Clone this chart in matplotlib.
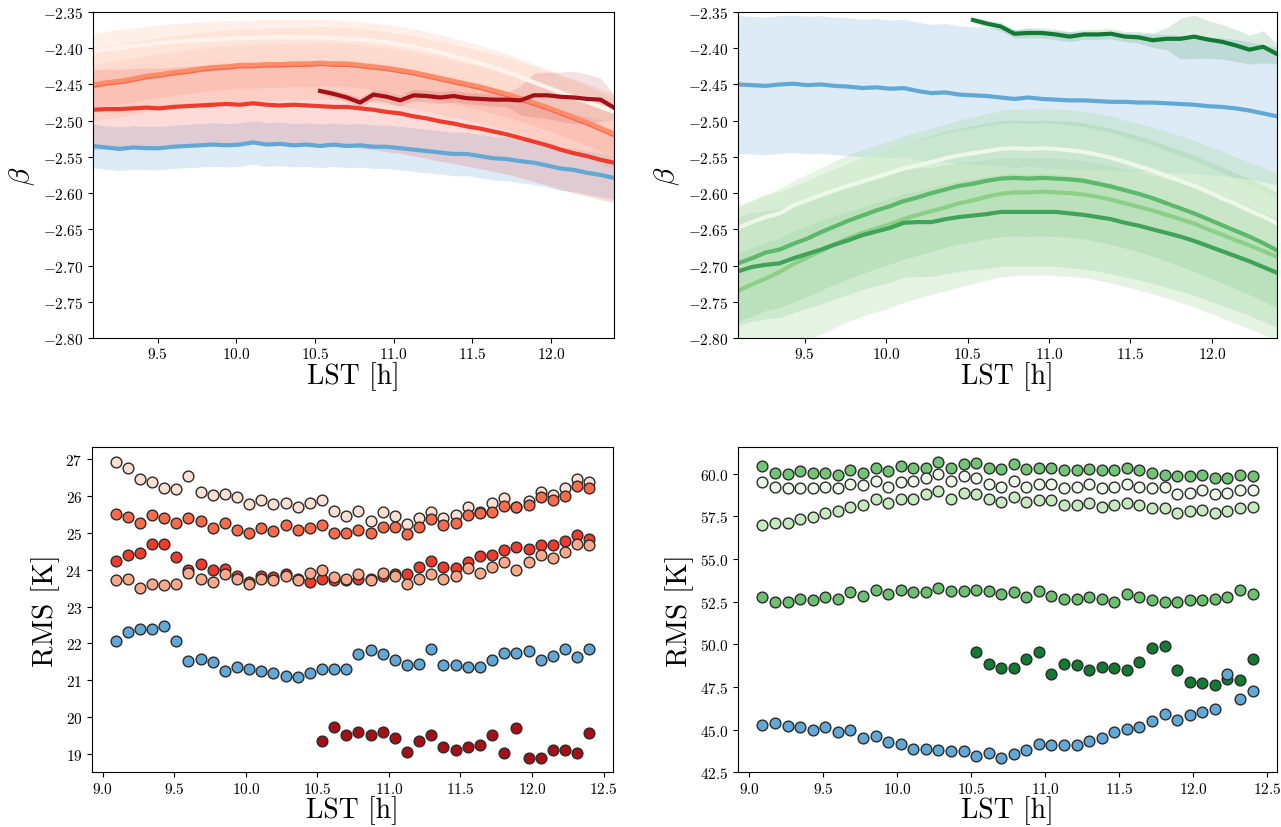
import numpy as np
import matplotlib
matplotlib.use("Agg")
import matplotlib.pyplot as plt

plt.rcParams['font.family'] = 'serif'
plt.rcParams['font.serif'] = ['cmr10']
plt.rcParams['mathtext.fontset'] = 'cm'
plt.rcParams['axes.formatter.use_mathtext'] = True
plt.rcParams['axes.unicode_minus'] = True

# LST grid [h]
lst = [9.090, 9.175, 9.260, 9.345, 9.430, 9.514, 9.599, 9.684, 9.769, 9.854,
       9.939, 10.024, 10.108, 10.193, 10.278, 10.363, 10.448, 10.533, 10.618, 10.703,
       10.787, 10.872, 10.957, 11.042, 11.127, 11.212, 11.297, 11.381, 11.466, 11.551,
       11.636, 11.721, 11.806, 11.891, 11.976, 12.060, 12.145, 12.230, 12.315, 12.400]
lst_late = lst[17:]

# ---- beta, left (reds) ----
beta_l_blue = [-2.535, -2.537, -2.539, -2.537, -2.538, -2.538, -2.536, -2.535, -2.534, -2.533,
               -2.534, -2.533, -2.530, -2.533, -2.532, -2.534, -2.533, -2.535, -2.533, -2.535,
               -2.534, -2.536, -2.536, -2.538, -2.540, -2.542, -2.544, -2.546, -2.546, -2.549,
               -2.552, -2.553, -2.556, -2.558, -2.562, -2.566, -2.568, -2.572, -2.575, -2.579]
beta_l_pale = [-2.405, -2.402, -2.399, -2.397, -2.395, -2.393, -2.391, -2.390, -2.389, -2.388,
               -2.387, -2.386, -2.386, -2.385, -2.385, -2.385, -2.385, -2.385, -2.386, -2.387,
               -2.388, -2.390, -2.392, -2.395, -2.398, -2.402, -2.406, -2.411, -2.416, -2.421,
               -2.427, -2.433, -2.440, -2.447, -2.454, -2.461, -2.468, -2.474, -2.481, -2.488]
beta_l_orange = [-2.452, -2.449, -2.447, -2.444, -2.440, -2.438, -2.435, -2.433, -2.430, -2.428,
                 -2.427, -2.425, -2.425, -2.424, -2.424, -2.423, -2.423, -2.422, -2.423, -2.423,
                 -2.425, -2.427, -2.429, -2.432, -2.435, -2.439, -2.443, -2.447, -2.451, -2.455,
                 -2.460, -2.465, -2.471, -2.477, -2.483, -2.490, -2.497, -2.504, -2.512, -2.520]
beta_l_salmon = [-2.450, -2.447, -2.445, -2.442, -2.438, -2.436, -2.433, -2.431, -2.428, -2.426,
                 -2.425, -2.423, -2.423, -2.422, -2.422, -2.421, -2.421, -2.420, -2.421, -2.421,
                 -2.423, -2.425, -2.427, -2.430, -2.433, -2.437, -2.441, -2.445, -2.449, -2.453,
                 -2.458, -2.463, -2.469, -2.475, -2.481, -2.488, -2.495, -2.502, -2.510, -2.518]
beta_l_red = [-2.485, -2.484, -2.484, -2.483, -2.482, -2.483, -2.481, -2.480, -2.479, -2.478,
              -2.477, -2.478, -2.476, -2.478, -2.479, -2.478, -2.479, -2.480, -2.481, -2.481,
              -2.483, -2.485, -2.488, -2.490, -2.494, -2.497, -2.501, -2.504, -2.508, -2.511,
              -2.515, -2.519, -2.524, -2.529, -2.534, -2.540, -2.545, -2.549, -2.554, -2.558]
beta_l_dark = [-2.459, -2.463, -2.468, -2.475, -2.464, -2.467, -2.472, -2.465, -2.466, -2.468,
               -2.466, -2.469, -2.470, -2.471, -2.471, -2.472, -2.465, -2.465, -2.467, -2.468,
               -2.470, -2.471, -2.482]
err_l_dark = [0.004, 0.005, 0.006, 0.007, 0.007, 0.008, 0.008, 0.008, 0.008, 0.008,
              0.008, 0.008, 0.008, 0.009, 0.010, 0.020, 0.030, 0.032, 0.034, 0.036,
              0.034, 0.030, 0.018]

# ---- beta, right (greens) ----
beta_r_blue = [-2.450, -2.451, -2.452, -2.450, -2.449, -2.451, -2.450, -2.452, -2.453, -2.455,
               -2.454, -2.456, -2.455, -2.459, -2.462, -2.461, -2.464, -2.465, -2.466, -2.468,
               -2.470, -2.468, -2.470, -2.471, -2.472, -2.472, -2.473, -2.474, -2.474, -2.475,
               -2.475, -2.476, -2.477, -2.478, -2.480, -2.481, -2.483, -2.486, -2.490, -2.494]
beta_r_pale = [-2.648, -2.640, -2.633, -2.628, -2.617, -2.610, -2.603, -2.596, -2.590, -2.584,
               -2.578, -2.572, -2.566, -2.562, -2.557, -2.552, -2.548, -2.545, -2.542, -2.539,
               -2.538, -2.539, -2.538, -2.539, -2.541, -2.543, -2.547, -2.551, -2.557, -2.563,
               -2.569, -2.576, -2.583, -2.590, -2.598, -2.607, -2.615, -2.624, -2.632, -2.642]
beta_r_light = [-2.735, -2.726, -2.718, -2.709, -2.698, -2.689, -2.680, -2.671, -2.662, -2.655,
                -2.649, -2.643, -2.636, -2.630, -2.625, -2.620, -2.614, -2.610, -2.605, -2.601,
                -2.599, -2.599, -2.598, -2.599, -2.600, -2.602, -2.605, -2.609, -2.614, -2.619,
                -2.624, -2.630, -2.636, -2.642, -2.650, -2.657, -2.665, -2.672, -2.680, -2.688]
beta_r_mid = [-2.697, -2.690, -2.682, -2.678, -2.670, -2.663, -2.654, -2.646, -2.638, -2.631,
              -2.624, -2.618, -2.611, -2.606, -2.600, -2.595, -2.590, -2.587, -2.583, -2.580,
              -2.579, -2.580, -2.579, -2.580, -2.581, -2.583, -2.587, -2.591, -2.596, -2.601,
              -2.607, -2.614, -2.621, -2.628, -2.636, -2.644, -2.652, -2.660, -2.669, -2.679]
beta_r_deep = [-2.708, -2.702, -2.699, -2.697, -2.690, -2.684, -2.678, -2.671, -2.665, -2.658,
               -2.653, -2.648, -2.641, -2.640, -2.640, -2.636, -2.633, -2.631, -2.629, -2.626,
               -2.626, -2.626, -2.626, -2.626, -2.628, -2.630, -2.633, -2.636, -2.641, -2.645,
               -2.650, -2.655, -2.660, -2.666, -2.673, -2.680, -2.687, -2.694, -2.702, -2.710]
beta_r_dark = [-2.361, -2.366, -2.370, -2.380, -2.379, -2.379, -2.381, -2.384, -2.381, -2.381,
               -2.380, -2.384, -2.385, -2.389, -2.387, -2.387, -2.384, -2.388, -2.391, -2.396,
               -2.402, -2.398, -2.408]
err_r_dark = [0.004, 0.005, 0.006, 0.006, 0.007, 0.007, 0.007, 0.007, 0.007, 0.007,
              0.007, 0.007, 0.008, 0.010, 0.015, 0.028, 0.030, 0.026, 0.024, 0.022,
              0.020, 0.022, 0.014]

# ---- RMS, left (reds) [K] ----
rms_l_pale = [26.93, 26.77, 26.47, 26.39, 26.22, 26.19, 26.55, 26.11, 26.02, 26.06,
              25.97, 25.77, 25.90, 25.77, 25.81, 25.70, 25.81, 25.90, 25.58, 25.45,
              25.58, 25.32, 25.57, 25.45, 25.24, 25.40, 25.57, 25.40, 25.49, 25.69,
              25.57, 25.81, 25.94, 25.69, 25.86, 26.11, 26.02, 26.22, 26.47, 26.39]
rms_l_orange = [25.52, 25.44, 25.28, 25.49, 25.40, 25.28, 25.40, 25.32, 25.12, 25.28,
                25.07, 24.99, 25.12, 25.04, 25.20, 25.07, 25.12, 25.20, 24.99, 24.99,
                25.07, 24.99, 25.16, 25.16, 24.97, 25.16, 25.37, 25.20, 25.28, 25.49,
                25.54, 25.57, 25.73, 25.69, 25.76, 25.97, 25.89, 26.01, 26.26, 26.22]
rms_l_red = [24.24, 24.41, 24.45, 24.69, 24.69, 24.34, 24.00, 24.16, 24.00, 24.03,
             23.83, 23.67, 23.83, 23.80, 23.88, 23.75, 23.67, 23.75, 23.71, 23.71,
             23.75, 23.75, 23.83, 23.88, 23.87, 24.08, 24.24, 24.08, 24.04, 24.21,
             24.36, 24.41, 24.54, 24.62, 24.57, 24.66, 24.66, 24.78, 24.95, 24.83]
rms_l_salmon = [23.71, 23.75, 23.51, 23.62, 23.59, 23.62, 23.92, 23.75, 23.67, 23.88,
                23.75, 23.62, 23.75, 23.71, 23.83, 23.71, 23.92, 24.00, 23.79, 23.75,
                23.88, 23.71, 23.92, 23.83, 23.60, 23.75, 23.87, 23.75, 23.83, 24.04,
                23.92, 24.08, 24.21, 24.00, 24.21, 24.41, 24.33, 24.49, 24.69, 24.67]
rms_l_blue = [22.07, 22.32, 22.39, 22.39, 22.48, 22.07, 21.53, 21.57, 21.49, 21.25,
              21.37, 21.30, 21.25, 21.20, 21.12, 21.09, 21.20, 21.30, 21.30, 21.30,
              21.70, 21.82, 21.70, 21.54, 21.42, 21.45, 21.86, 21.42, 21.42, 21.37,
              21.37, 21.54, 21.74, 21.74, 21.78, 21.54, 21.66, 21.86, 21.63, 21.86]
rms_l_dark = [19.35, 19.73, 19.52, 19.60, 19.52, 19.60, 19.44, 19.06, 19.35, 19.52,
              19.19, 19.11, 19.19, 19.24, 19.52, 19.03, 19.69, 18.90, 18.90, 19.11,
              19.11, 19.03, 19.56]

# ---- RMS, right (greens) [K] ----
rms_r_mid = [60.45, 60.04, 59.98, 60.12, 60.04, 60.04, 59.94, 60.20, 60.04, 60.35,
             60.12, 60.45, 60.35, 60.35, 60.69, 60.35, 60.53, 60.63, 60.35, 60.27,
             60.57, 60.27, 60.35, 60.35, 60.20, 60.20, 60.27, 60.20, 60.20, 60.35,
             60.20, 60.04, 59.94, 59.84, 59.84, 59.94, 59.76, 59.76, 59.94, 59.84]
rms_r_pale = [59.49, 59.21, 59.14, 59.14, 59.14, 59.21, 59.14, 59.39, 59.31, 59.57,
              59.21, 59.49, 59.57, 59.76, 60.00, 59.57, 59.84, 59.72, 59.39, 59.21,
              59.57, 59.21, 59.39, 59.39, 59.14, 59.21, 59.39, 59.14, 59.21, 59.39,
              59.21, 59.14, 59.21, 58.78, 58.86, 59.06, 58.78, 58.86, 59.06, 59.06]
rms_r_light = [56.99, 57.09, 57.09, 57.35, 57.45, 57.70, 57.80, 58.06, 58.13, 58.51,
               58.25, 58.51, 58.51, 58.78, 58.96, 58.51, 58.86, 58.78, 58.51, 58.33,
               58.61, 58.33, 58.43, 58.43, 58.15, 58.15, 58.25, 58.06, 58.15, 58.25,
               58.15, 57.98, 57.98, 57.70, 57.80, 57.88, 57.70, 57.80, 57.98, 58.06]
rms_r_deep = [52.77, 52.50, 52.50, 52.67, 52.59, 52.77, 52.67, 53.03, 52.85, 53.20,
              52.95, 53.20, 53.03, 53.03, 53.30, 53.13, 53.13, 53.20, 53.13, 52.95,
              53.03, 52.77, 53.13, 52.85, 52.67, 52.67, 52.77, 52.67, 52.50, 52.95,
              52.77, 52.59, 52.50, 52.50, 52.59, 52.59, 52.67, 52.77, 53.20, 52.95]
rms_r_dark = [49.57, 48.84, 48.59, 48.59, 49.14, 49.57, 48.23, 48.84, 48.76, 48.49,
              48.67, 48.59, 48.49, 48.94, 49.75, 49.92, 48.49, 47.78, 47.70, 47.61,
              47.96, 47.88, 49.12]
rms_r_blue = [45.29, 45.39, 45.21, 45.13, 44.95, 45.13, 44.86, 44.95, 44.50, 44.60,
              44.25, 44.17, 43.89, 43.89, 43.81, 43.72, 43.72, 43.46, 43.64, 43.36,
              43.54, 43.81, 44.17, 44.07, 44.07, 44.07, 44.35, 44.50, 44.86, 45.03,
              45.13, 45.48, 45.92, 45.56, 45.84, 46.01, 46.19, 48.23, 46.80, 47.25]

# colours
blue = '#62a8d6'
red_pale, red_salmon, red_orange, red_red, red_dark = '#fee0d2', '#fca98b', '#fb6a4a', '#ef3b2c', '#a50f15'
grn_pale, grn_light, grn_mid, grn_deep, grn_dark = '#edf8e9', '#a9dca1', '#74c476', '#49af5f', '#137a33'

fig = plt.figure(figsize=(12.81, 8.28), dpi=100)
ax_tl = fig.add_axes([0.0726, 0.5906, 0.4067, 0.3937])
ax_tr = fig.add_axes([0.5761, 0.5906, 0.4208, 0.3937])
ax_bl = fig.add_axes([0.0718, 0.0660, 0.4067, 0.3930])
ax_br = fig.add_axes([0.5761, 0.0660, 0.4208, 0.3930])


def band(ax, x, y, err, col, alpha=0.22):
    y = np.asarray(y)
    err = np.asarray(err)
    ax.fill_between(x, y - err, y + err, color=col, alpha=alpha, lw=0)


# top left
band(ax_tl, lst, beta_l_blue, 0.03, blue)
band(ax_tl, lst, beta_l_red, 0.055, red_red, 0.18)
band(ax_tl, lst, beta_l_orange, 0.03, red_orange, 0.15)
band(ax_tl, lst, beta_l_salmon, 0.05, red_salmon, 0.25)
band(ax_tl, lst, beta_l_pale, 0.025, red_pale, 0.5)
band(ax_tl, lst_late, beta_l_dark, err_l_dark, red_dark, 0.12)
for yv, c in [(beta_l_blue, blue), (beta_l_pale, '#fff3ee'), (beta_l_orange, red_orange),
              (beta_l_salmon, '#fc8d6a'), (beta_l_red, red_red)]:
    ax_tl.plot(lst, yv, color=c, lw=3)
ax_tl.plot(lst_late, beta_l_dark, color=red_dark, lw=3)

# top right
band(ax_tr, lst, beta_r_blue, 0.095, blue)
band(ax_tr, lst, beta_r_light, 0.115, grn_light, 0.3)
band(ax_tr, lst, beta_r_mid, 0.08, grn_mid, 0.2)
band(ax_tr, lst, beta_r_deep, 0.075, grn_deep, 0.15)
band(ax_tr, lst, beta_r_pale, 0.035, grn_pale, 0.3)
band(ax_tr, lst_late, beta_r_dark, err_r_dark, grn_dark, 0.15)
for yv, c in [(beta_r_blue, blue), (beta_r_pale, grn_pale), (beta_r_light, '#8ccf87'),
              (beta_r_mid, '#5cb86a'), (beta_r_deep, '#3fa459')]:
    ax_tr.plot(lst, yv, color=c, lw=3)
ax_tr.plot(lst_late, beta_r_dark, color=grn_dark, lw=3)

for ax in (ax_tl, ax_tr):
    ax.set_xlim(lst[0], lst[-1])
    ax.set_ylim(-2.80, -2.35)
    ax.set_yticks(np.arange(-2.80, -2.349, 0.05))
    ax.set_ylabel(r'$\beta$', fontsize=21)

# bottom panels
kw = dict(s=60, edgecolors='#2b2b2b', linewidths=1.0, zorder=3)
ax_bl.scatter(lst, rms_l_pale, color=red_pale, **kw)
ax_bl.scatter(lst, rms_l_orange, color=red_orange, **kw)
ax_bl.scatter(lst, rms_l_red, color=red_red, **kw)
ax_bl.scatter(lst, rms_l_salmon, color=red_salmon, **kw)
ax_bl.scatter(lst, rms_l_blue, color=blue, **kw)
ax_bl.scatter(lst_late, rms_l_dark, color=red_dark, **kw)

ax_br.scatter(lst, rms_r_mid, color=grn_mid, **kw)
ax_br.scatter(lst, rms_r_pale, color=grn_pale, **kw)
ax_br.scatter(lst, rms_r_light, color='#c7e9c0', **kw)
ax_br.scatter(lst, rms_r_deep, color='#6cc070', **kw)
ax_br.scatter(lst_late, rms_r_dark, color=grn_dark, **kw)
ax_br.scatter(lst, rms_r_blue, color=blue, **kw)
ax_br.set_yticks(np.arange(42.5, 60.1, 2.5))

for ax in (ax_bl, ax_br):
    ax.set_ylabel('RMS [K]', fontsize=21)

for ax in (ax_tl, ax_tr, ax_bl, ax_br):
    ax.set_xlabel('LST [h]', fontsize=20, labelpad=0)
    ax.tick_params(labelsize=11)
    ax.tick_params(axis='x', pad=2.5)

fig.savefig('out.png', dpi=100)
